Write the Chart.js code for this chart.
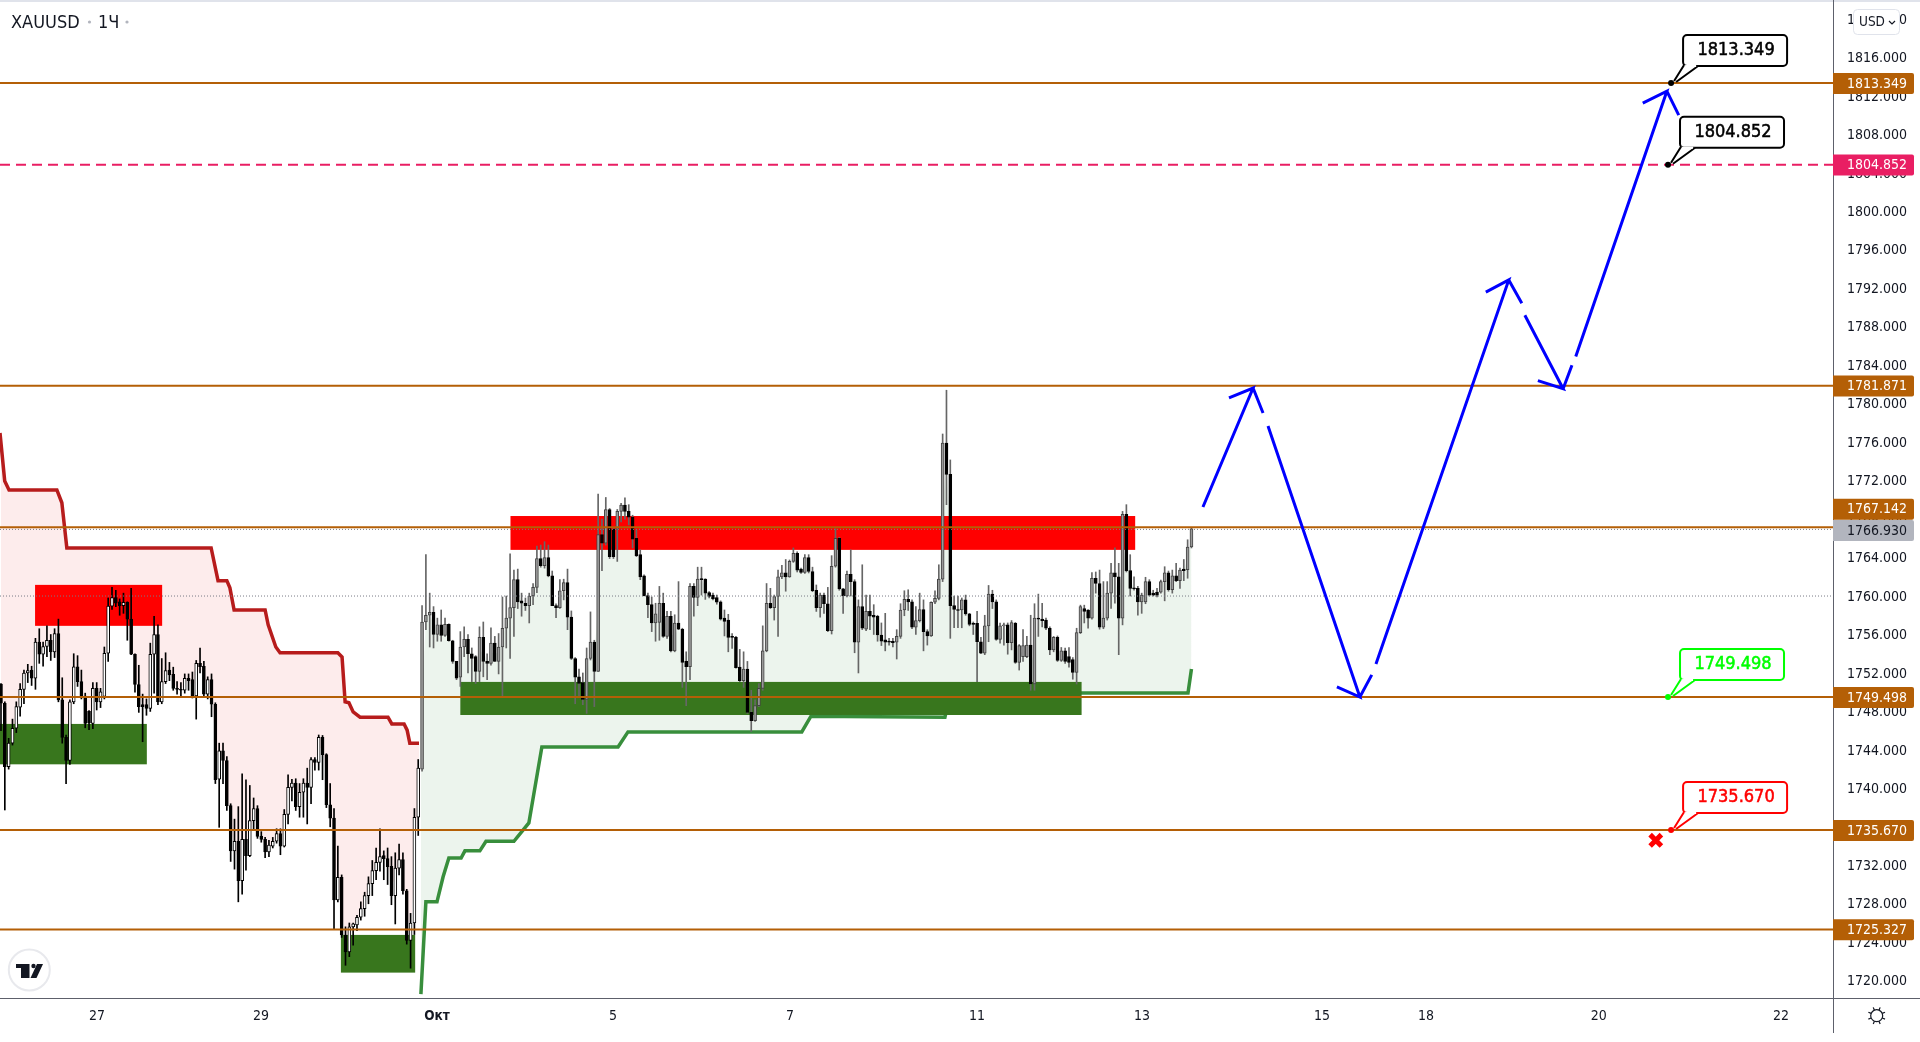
<!DOCTYPE html>
<html>
<head>
<meta charset="utf-8">
<title>XAUUSD</title>
<script src="https://cdn.jsdelivr.net/npm/chart.js@4/dist/chart.umd.min.js"></script>
<style>html,body{margin:0;padding:0;background:#fff;overflow:hidden}canvas{display:block}</style>
</head>
<body>
<canvas id="chart" width="1920" height="1042"></canvas>
<script>
const opens=[1750.85,1748.85,1742.25,1744.7,1746.25,1748.45,1750.3,1752,1752.3,1751.45,
1755.2,1753.95,1754.75,1755.4,1754.2,1756.1,1749.2,1745.3,1742.9,1749,
1752.65,1751.1,1749.6,1748,1746.75,1750.4,1749,1749.55,1754.05,1758.95,
1759.85,1759.4,1759,1759.35,1757.6,1753.95,1750.8,1748.7,1748.7,1748.3,
1753.95,1756,1749,1751.1,1752.3,1751.85,1750.4,1750.3,1750.2,1751.45,
1751.3,1749.6,1753,1752.7,1749.8,1751.3,1748.75,1740.95,1743.9,1742.9,
1738.2,1733.5,1734.5,1730.4,1734.7,1733,1736.65,1737.9,1735.05,1734.7,
1733.4,1734,1734.5,1735.3,1734,1737.3,1740.1,1740.55,1738.1,1739.6,
1740.55,1740.1,1743,1742.7,1745.3,1743.5,1738.3,1736.9,1728.4,1730.75,
1724.75,1723,1725.6,1725.8,1726.6,1727.5,1728.85,1730.1,1731.45,1732.3,
1733,1732.7,1731.9,1728.85,1731.7,1732.6,1729.35,1724.2,1726,1737,
1742,1757.3,1758,1758.3,1756,1757,1755.9,1757.05,1755.35,1753.2,
1751.55,1754.7,1755.5,1754,1753.7,1752.15,1755.7,1753.2,1753,1755.1,
1753.2,1754.7,1756.65,1757.7,1758.8,1761.7,1759.5,1759.25,1759,1760,
1760.9,1763.9,1763.15,1764,1762.1,1759,1758.8,1760.55,1761.4,1757.8,
1753.5,1751.6,1751,1749.25,1753.5,1755.2,1752.15,1766.4,1765.5,1769,
1766.95,1766.95,1768.8,1769.45,1768.8,1768.2,1766,1764.3,1762.1,1760.05,
1759.1,1757.2,1757.25,1759.25,1755.8,1757.9,1754.3,1757.2,1756.55,1753.2,
1752.65,1761,1759.85,1761.75,1761.75,1760.35,1760.1,1759.85,1759.4,1757.7,
1757.5,1755.8,1755.7,1752.6,1751.2,1752.4,1747.9,1747.05,1748.6,1750.4,
1754.3,1759.25,1758.8,1759.95,1762,1762.4,1762,1763.6,1764.45,1762.8,
1762.45,1764,1762.55,1760.6,1758.8,1760.1,1759.2,1756.4,1763.1,1766,
1760.75,1760,1762.25,1761.5,1755.2,1758.9,1756.55,1758.4,1758,1757.9,
1755.95,1755.45,1755.3,1755.3,1755.2,1755.8,1758.55,1759.65,1759.4,1756.75,
1757.45,1758.6,1756.3,1755.85,1759.35,1759.75,1761.75,1775.9,1772.65,1759,
1758.6,1758.55,1759.6,1758.15,1757.15,1757.15,1755.25,1754.05,1756.9,1760.2,
1759.4,1755.5,1756.9,1757,1755.15,1757.15,1753.1,1753.7,1753.7,1754.9,
1750.85,1757.7,1757.6,1757.5,1756.65,1754.4,1755.7,1753.3,1754.3,1753.7,
1753.4,1752.05,1756.2,1758.7,1758.55,1757.7,1761.85,1761.3,1756.75,1757.7,
1760.3,1762.4,1762,1757.7,1768.5,1762.65,1760.8,1760.8,1759.4,1759.4,
1761.5,1760.3,1760.4,1760.4,1761.5,1762.4,1760.65,1762.1,1761.6,1762.8,
1762.75,1765.1];
const highs=[1750.9,1749,1745.2,1747.2,1749,1750.9,1752.3,1752.9,1752.7,1755.6,
1756.6,1755.2,1756.9,1756,1756.6,1757.6,1751.5,1745.55,1749.2,1754,
1753.8,1752.3,1749.9,1748.1,1751,1751,1750.4,1754.7,1759.8,1760.9,
1760.6,1759.7,1760.3,1759.4,1760.8,1754,1752.8,1749.8,1749.3,1755.1,
1757.9,1757,1753.5,1754.1,1753.1,1752.6,1751.1,1751,1751.9,1751.9,
1752.1,1753.3,1754.6,1753.2,1751.6,1751.9,1748.9,1744.7,1744.7,1743.3,
1738.4,1736.8,1738.1,1741.5,1740.9,1740.3,1739,1738.2,1735.5,1734.9,
1734.6,1734.9,1735.8,1735.8,1737.8,1741.4,1740.95,1741,1740.5,1741,
1742.1,1743.2,1743.2,1745.55,1745.5,1743.6,1740.5,1737.9,1734,1731,
1725.6,1726,1726,1726.8,1728.2,1729.2,1730.8,1732.5,1733.8,1735.8,
1733.5,1733.8,1732.9,1733.3,1734.2,1733.3,1729.5,1727,1737.9,1743,
1759,1764.3,1760.3,1758.9,1757.7,1758.55,1757.7,1757.1,1755.4,1753.2,
1756.3,1756.8,1756,1754.6,1753.8,1756.8,1757.3,1754,1756.7,1755.8,
1756.1,1759.9,1760,1764.4,1762.7,1762.8,1760.3,1759.8,1760.3,1761.3,
1765.2,1765.3,1765.65,1765.3,1762.6,1759.2,1761.7,1761.75,1762.8,1758.45,
1753.6,1752.4,1752,1754.6,1758.35,1755.4,1770.6,1768,1770.25,1769.1,
1767,1769,1769.65,1770.2,1769.5,1768.4,1766.9,1764.8,1762.2,1760.3,
1759.9,1759.25,1761,1760.3,1758.4,1758.4,1758.05,1761.5,1756.65,1754.2,
1761.3,1761.3,1763,1763,1761.8,1760.45,1760.3,1760.1,1759.5,1758.55,
1758.1,1756.1,1755.8,1754.45,1754.2,1753.2,1750.2,1749.2,1750.9,1756.9,
1761.3,1760.8,1760.1,1762.7,1763.2,1763.8,1763.75,1765,1764.6,1762.9,
1764.3,1764.3,1763,1761.15,1760.3,1760.3,1760.9,1764.2,1767,1766.1,
1760.8,1762.6,1764.8,1761.7,1759.6,1763.25,1760.1,1760.1,1759.1,1758,
1757.2,1758.2,1755.6,1755.6,1756.5,1759.2,1760.55,1760.65,1759.6,1758.9,
1760.3,1759.6,1756.5,1759.4,1760.55,1763.25,1776.85,1781.4,1774.15,1760,
1760,1759.8,1760.1,1758.2,1757.3,1758.4,1755.7,1758,1761.1,1760.6,
1759.6,1757.2,1757.2,1757.2,1757.45,1757.25,1754.95,1756.5,1755.8,1758,
1759.2,1760.2,1759.25,1757.7,1756.8,1755.8,1755.85,1754.65,1754.6,1754.65,
1753.6,1756.65,1759.05,1759.05,1758.6,1762.45,1762.5,1762.7,1761.5,1761.5,
1763.4,1765,1763.4,1768.8,1769.5,1764.3,1762,1761,1760.3,1761.95,
1761.7,1760.6,1760.8,1761.65,1763.05,1762.6,1762.7,1763.4,1762.9,1763.8,
1765.85,1767.05];
const lows=[1746,1737.75,1742,1744.5,1745.8,1747.5,1748.8,1751,1750.7,1750.3,
1753,1752.7,1753.7,1753.3,1753.6,1749,1744.7,1740.5,1742.5,1748.8,
1750.6,1749.3,1746.3,1746.1,1746.2,1748.15,1748.4,1749.3,1753.2,1758.6,
1758.9,1758,1758.2,1755.4,1753.9,1750,1747.9,1744.85,1747.6,1748,
1749.9,1748.7,1748.8,1750.9,1751.2,1750.2,1749.8,1749.5,1749.9,1750.2,
1749.4,1747.2,1752,1749.6,1749.3,1747.45,1740.5,1735.95,1740.5,1737.7,
1732.4,1731.6,1728.2,1729,1731.5,1732.9,1735.7,1734.8,1734.4,1732.8,
1732.9,1733.8,1734.3,1733.1,1733.9,1736.3,1738.7,1737.7,1737,1737,
1736.3,1738.4,1741.9,1741.9,1740.9,1738,1736,1725.4,1728.2,1724.5,
1721.6,1722.5,1723.7,1725.2,1726.3,1726.7,1728,1728.85,1730.5,1731.4,
1730.5,1730,1727.9,1725.9,1731,1729,1723.8,1721.3,1724.8,1735.1,
1741.8,1756.5,1754.7,1754.6,1755.3,1755.3,1755.8,1755.3,1753,1751.3,
1750.6,1753.7,1752,1751.1,1750.9,1751.1,1751.6,1751.3,1752.8,1753.2,
1751.9,1749.6,1754.6,1753.5,1755.8,1758.7,1757.9,1758.5,1757.2,1759.1,
1760.35,1763,1762.9,1762,1759,1757.75,1758.7,1759.6,1756.5,1753.4,
1748.8,1749.5,1748.7,1747.8,1753.35,1748.5,1752.15,1762.65,1765.3,1763.9,
1763.9,1763.6,1767.7,1768,1767.4,1765,1764.1,1761.7,1760,1757.75,
1756.3,1755.3,1755.4,1755.7,1755.6,1754.2,1754.2,1756.5,1750.5,1748.6,
1751.3,1757.9,1759,1760.1,1759.65,1759.8,1759.6,1759.15,1757.5,1755.85,
1754.2,1754.55,1752.5,1751.1,1750.5,1747.8,1745.9,1746.95,1748.5,1750.2,
1754.2,1758.7,1757.5,1755.8,1761.8,1760.5,1761.95,1763.5,1762.5,1762.35,
1762.35,1762.4,1760.45,1758.4,1757.8,1758.2,1756.3,1756.05,1763,1760.6,
1758.2,1759.9,1760,1754.1,1752,1756.5,1756.4,1756.5,1756,1755.3,
1754.85,1754.3,1754.9,1754.7,1753.45,1755.6,1757.95,1758.5,1756.6,1756,
1757.3,1754.3,1754.9,1755.8,1759.2,1759.6,1761.5,1769.5,1755.6,1756.7,
1756.7,1756.7,1758,1756.9,1756,1751.1,1754,1753.9,1755.25,1758.7,
1755.4,1755.1,1754.9,1753.95,1754.4,1753,1752.3,1753.2,1753.6,1750.2,
1750.2,1755.8,1756.8,1756.5,1753.9,1754.2,1753.2,1753.2,1753,1752.6,
1751.35,1750.85,1756.1,1757.2,1756.65,1757.6,1760.3,1756.55,1756.6,1757.5,
1758.7,1759.25,1753.9,1757,1762.5,1760,1760.6,1758,1758.2,1759.2,
1760,1760,1759.9,1760.3,1759.5,1760.5,1760.3,1761.5,1760.8,1761.6,
1761.85,1765];
const closes=[1748.85,1742.25,1744.7,1746.25,1748.5,1750.3,1752,1752.25,1751.45,1755.2,
1753.95,1754.75,1755.4,1754.2,1756.1,1749.2,1745.3,1742.9,1749,1752.65,
1751.1,1749.6,1746.75,1746.8,1750.4,1749,1750.05,1754.05,1758.95,1759.85,
1759.25,1759,1759.35,1757.6,1753.95,1750.8,1748.5,1748.5,1748.3,1753.95,
1756,1749,1751.1,1752.25,1751.8,1750.4,1750.3,1750.2,1751.45,1751.2,
1749.6,1753,1752.65,1749.8,1751.3,1748.75,1740.9,1743.9,1742.9,1738.2,
1733.5,1734.5,1730.4,1734.7,1733,1736.65,1737.9,1735,1734.7,1733.4,
1734.1,1734.5,1735.3,1734,1737.3,1740.1,1740.55,1738.1,1739.6,1740.55,
1740.1,1743,1742.7,1745.3,1743.5,1738.3,1736.9,1728.4,1730.75,1724.75,
1723,1725.6,1725.9,1726.6,1727.5,1728.85,1730.1,1731.45,1732.3,1732.9,
1732.7,1731.85,1728.85,1731.7,1732.6,1729.35,1724.2,1726,1737,1742.1,
1757.3,1758,1758.3,1756,1757,1755.9,1757.05,1755.35,1753.2,1751.45,
1754.7,1755.5,1754,1753.5,1752.15,1755.7,1753.2,1753,1755.1,1753.2,
1754.7,1756.65,1757.7,1758.8,1761.7,1759.4,1759.25,1759,1760,1760.9,
1763.9,1763.15,1764,1762.1,1759,1758.8,1760.55,1761.4,1757.8,1753.5,
1751.55,1750.9,1749.25,1753.5,1755.2,1752.15,1766.4,1765.5,1769,1764.1,
1764.1,1768.8,1769.45,1768.8,1768.2,1765.9,1764.2,1762,1760.05,1759.1,
1757.2,1758.15,1759.25,1755.8,1757.9,1754.3,1757.2,1756.55,1753.1,1752.65,
1761,1759.85,1761.75,1761.7,1760.3,1759.95,1759.7,1759.35,1757.6,1757.35,
1755.7,1755.7,1752.55,1751.2,1752.4,1747.9,1747.05,1748.6,1750.4,1754.3,
1759.25,1758.8,1759.95,1762,1762.4,1762,1763.6,1764.45,1762.7,1762.45,
1764,1762.55,1760.55,1758.8,1760.1,1759.2,1756.4,1763.1,1766,1760.75,
1760,1762.25,1761.5,1755.2,1758.9,1756.65,1758.4,1757.9,1757.8,1755.95,
1755.3,1755.2,1755.2,1755.15,1755.8,1758.55,1759.65,1759.4,1756.75,1757.45,
1758.6,1756.3,1755.85,1759.35,1759.75,1761.75,1775.9,1772.65,1759,1758.6,
1758.5,1759.6,1758.15,1757.05,1757.05,1755.25,1754.05,1756.9,1760.2,1759.4,
1755.5,1756.9,1756.9,1755.15,1757.25,1753.1,1754.85,1754.85,1754.9,1750.85,
1757.7,1757.6,1757.45,1756.65,1754.4,1755.7,1753.3,1754.3,1753.2,1753.1,
1752.05,1756.2,1758.9,1758.4,1757.7,1761.85,1761.3,1756.75,1757.7,1760.3,
1762.4,1762,1757.7,1768.5,1762.65,1760.8,1760.75,1759.4,1760.1,1761.5,
1760.1,1760.1,1760.1,1761.5,1762.4,1760.65,1762.1,1761.6,1762.7,1762.65,
1765.1,1767];
const redBars=[-0.26,0.97,2.1,14.6,15.9,17.2,54.9,56.7,59,59.8,60.9,69,69.8,71.8,72.9,88,89.1,89.9,90.9,92,93.8,101.1,102.1,105.3,106.1,106.8,109.2];
const redValues=[1776.95,1771.96,1771.03,1771.03,1769.7,1765,1765,1761.6,1761.6,1760.85,1758.55,1758.55,1757,1754.7,1754.1,1754.1,1753.65,1749,1748.9,1747.95,1747.4,1747.4,1746.7,1746.7,1746.05,1744.7,1744.7];
const greenBars=[109.7,111,113.9,115.5,117,120.2,121.2,125.1,126.7,134,137.9,141.3,161.2,163.8,209.2,211.6,246.6,248,310.1,311];
const greenValues=[1718.6,1728.2,1728.2,1730.8,1732.75,1732.75,1733.5,1733.5,1734.5,1734.5,1736.4,1744.3,1744.3,1745.87,1745.87,1747.5,1747.4,1749.92,1749.92,1752.4];
const zoneFrom=[8.9,-0.26,88.8,133.1,120];
const zoneTo=[42.1,38.1,108.2,296.3,282.3];
const zoneTop=[1761.16,1746.7,1724.76,1768.32,1751.07];
const zoneBottom=[1756.9,1742.5,1720.84,1764.8,1747.63];
const zoneColors=["#FF0000","#38761D","#38761D","#FF0000","#38761D"];
const levels=[1813.349,1781.871,1767.142,1749.498,1735.67,1725.327];
const targetLevel=1804.852;
const dottedLevels=[1766.93,1760];
const blueBars=[314,327.1,320.8,null,327.1,329.7,null,331,355,349,null,355,358.1,null,359.2,393.9,387.9,null,393.9,397.3,null,398.1,408.1,401.5,null,408.1,410.4,null,411.4,435.2,428.9,null,435.2,438.3];
const blueValues=[1769.26,1781.63,1780.6,null,1781.63,1779.03,null,1777.68,1749.5,1750.55,null,1749.5,1751.8,null,1752.94,1792.87,1791.6,null,1792.87,1790.44,null,1789.2,1781.55,1782.4,null,1781.55,1784,null,1784.9,1812.5,1811.25,null,1812.5,1810];
const calloutBars=[436.3,435.5,435.5,436.3];
const calloutValues=[1813.349,1804.852,1749.498,1735.67];
const calloutColors=["#000000","#000000","#00FF00","#FF0000"];
const stopBar=432.3,stopValue=1734.6;
const tagValues=[1813.349,1804.852,1781.871,1767.142,1766.93,1749.498,1735.67,1725.327];
const tagColors=["#B45F06","#E91E63","#B45F06","#B45F06","#B2B5BE","#B45F06","#B45F06","#B45F06"];
const tagText=["#fff","#fff","#fff","#fff","#131722","#fff","#fff","#fff"];
const tagShift=[0,0,0,-18.5,0.6,0,0,0];
const yTicks=[1720,1724,1728,1732,1736,1740,1744,1748,1752,1756,1760,1764,1768,1772,1776,1780,1784,1788,1792,1796,1800,1804,1808,1812,1816,1820];
const xTickBars=[25.1,67.9,113.9,159.9,206.1,255,298.1,345.1,372.3,417.4,465];
const xTickLabels=["27","29","Окт","5","7","11","13","15","18","20","22"];

const xMin=-0.26,xMax=478.6;
const font='"DejaVu Sans Condensed","DejaVu Sans"',ink="#131722",lineGrey="#5D606B";
const grayFrom=110;
const isUp=i=>closes[i]>=opens[i];
const pts=(xs,ys)=>xs.map((x,i)=>({x,y:ys[i]}));
const flat=(y,o)=>({type:"line",data:[{x:xMin,y},{x:xMax,y}],pointRadius:0,borderCapStyle:"butt",...o});

const overlay={
  id:"overlay",
  beforeDatasetDraw(chart,args){
    if(args.index!==3)return;
    const {x,y}=chart.scales,c=chart.ctx;
    c.save();
    zoneFrom.forEach((b,i)=>{
      c.fillStyle=zoneColors[i];
      c.fillRect(x.getPixelForValue(b),y.getPixelForValue(zoneTop[i]),x.getPixelForValue(zoneTo[i])-x.getPixelForValue(b),y.getPixelForValue(zoneBottom[i])-y.getPixelForValue(zoneTop[i]));
    });
    c.restore();
  },
  afterDraw(chart){
    const {x,y}=chart.scales,c=chart.ctx;
    c.save();
    c.fillStyle="#E0E3EB";c.fillRect(0,0,1920,2);
    c.fillStyle=lineGrey;
    c.fillRect(0,998,1920,1);c.fillRect(1833,0,1,1033);
    // callouts
    calloutValues.forEach((v,i)=>{
      const ax=x.getPixelForValue(calloutBars[i]),ay=y.getPixelForValue(v),col=calloutColors[i];
      const bl=ax+12,bt=ay-48,bw=104,bh=31;
      c.lineWidth=2;c.strokeStyle=col;c.fillStyle="#fff";
      c.beginPath();c.roundRect(bl,bt,bw,bh,4);c.fill();c.stroke();
      c.beginPath();c.moveTo(bl+1,bt+bh-1);c.lineTo(ax+3,ay-2);c.lineTo(ax+5,ay-1);c.lineTo(bl+15,bt+bh);c.closePath();c.fill();
      c.beginPath();c.moveTo(bl+1,bt+bh-1);c.lineTo(ax+3,ay-2);c.moveTo(bl+15,bt+bh);c.lineTo(ax+5,ay-1);c.stroke();
      c.strokeStyle="#fff";c.beginPath();c.moveTo(bl+3,bt+bh);c.lineTo(bl+13,bt+bh);c.stroke();
      c.fillStyle=col;c.beginPath();c.arc(ax,ay,3,0,Math.PI*2);c.fill();
      c.font=`18px ${font}`;c.textAlign="center";c.textBaseline="middle";
      c.fillText(v.toFixed(3),bl+bw/2+1,bt+bh/2);
      c.strokeStyle=col;c.lineWidth=0.5;c.strokeText(v.toFixed(3),bl+bw/2+1,bt+bh/2);
    });
    // price tags on the axis
    c.font=`14px ${font}`;c.textAlign="left";c.textBaseline="middle";
    tagValues.forEach((v,i)=>{
      const cy=y.getPixelForValue(v)+tagShift[i]+0.4;
      c.fillStyle=tagColors[i];
      c.beginPath();c.roundRect(1833,cy-10.5,81,21,[0,2,2,0]);c.fill();
      c.fillStyle=tagText[i];c.fillText(v.toFixed(3),1847,cy+0.6);
    });
    // USD button
    c.fillStyle="#fff";c.strokeStyle="#E0E3EB";c.lineWidth=1;
    c.beginPath();c.roundRect(1853.5,9.5,46,25,4);c.fill();c.stroke();
    c.fillStyle=ink;c.font=`13.5px ${font}`;c.fillText("USD",1859,22.5);
    c.strokeStyle=ink;c.lineWidth=1.2;c.beginPath();c.moveTo(1889,21);c.lineTo(1892,24);c.lineTo(1895,21);c.stroke();
    // title
    c.font=`18px ${font}`;c.fillStyle=ink;c.textBaseline="alphabetic";
    c.fillText("XAUUSD",11,28);c.fillText("1Ч",98,28);
    c.fillStyle="#B2B5BE";
    [[89.5,22],[127,22]].forEach(p=>{c.beginPath();c.arc(p[0],p[1],1.6,0,Math.PI*2);c.fill()});
    // logo
    c.strokeStyle="#E8E9ED";c.lineWidth=2;c.fillStyle="#fff";
    c.beginPath();c.arc(29.3,970,20.5,0,Math.PI*2);c.fill();c.stroke();
    c.fillStyle=ink;
    c.beginPath();c.moveTo(16,964);c.lineTo(29.5,964);c.lineTo(29.5,978);c.lineTo(21,978);c.lineTo(21,968);c.lineTo(16,968);c.closePath();c.fill();
    c.beginPath();c.arc(33.5,966,2.2,0,Math.PI*2);c.fill();
    c.beginPath();c.moveTo(37,964);c.lineTo(43,964);c.lineTo(36.5,978);c.lineTo(30.5,978);c.closePath();c.fill();
    // settings gear
    c.strokeStyle=ink;c.lineWidth=1.2;
    c.beginPath();c.arc(1876.7,1015.7,6,0,Math.PI*2);c.stroke();
    for(let k=0;k<8;k++){
      const a=k*Math.PI/4+Math.PI/8;
      c.beginPath();c.moveTo(1876.7+6*Math.cos(a),1015.7+6*Math.sin(a));c.lineTo(1876.7+9*Math.cos(a),1015.7+9*Math.sin(a));c.stroke();
    }
    c.restore();
  }
};

new Chart("chart",{
  data:{datasets:[
    {type:"line",label:"down",data:pts(redBars,redValues),borderColor:"#B71C1C",borderWidth:3.5,pointRadius:0,fill:{target:2},backgroundColor:"rgba(233,30,40,0.085)",order:8},
    {type:"line",label:"up",data:pts(greenBars,greenValues),borderColor:"#388E3C",borderWidth:3.5,pointRadius:0,fill:{target:2},backgroundColor:"rgba(56,142,60,0.095)",order:8},
    {type:"line",label:"mid",data:closes.map((v,i)=>({x:i,y:(v+opens[i])/2})),borderColor:"transparent",pointRadius:0,order:9},
    {type:"bar",label:"wicks",data:highs.map((h,i)=>({x:i,y:[lows[i],h]})),grouped:false,barThickness:1,minBarLength:1,
      backgroundColor:highs.map((h,i)=>i<grayFrom?"#000":"#666"),order:6},
    {type:"bar",label:"bodies",data:closes.map((v,i)=>({x:i,y:[Math.min(v,opens[i]),Math.max(v,opens[i])]})),grouped:false,barThickness:3,minBarLength:1,
      borderSkipped:false,borderWidth:1,
      borderColor:closes.map((v,i)=>isUp(i)&&i>=grayFrom?"#444":"#000"),
      backgroundColor:closes.map((v,i)=>isUp(i)?(i<grayFrom?"#fff":"#999"):"#000"),order:5},
    ...levels.map(v=>flat(v,{label:"level",borderColor:"#B45F06",borderWidth:2,order:3})),
    flat(targetLevel,{label:"target",borderColor:"#E91E63",borderWidth:2,borderDash:[10,6],order:3}),
    ...dottedLevels.map(v=>flat(v,{label:"dotted",borderColor:"#787B86",borderWidth:1,borderDash:[1,2],order:4})),
    {type:"line",label:"path",data:pts(blueBars,blueValues),borderColor:"#0000FF",borderWidth:3,pointRadius:0,spanGaps:false,borderJoinStyle:"miter",order:1},
    {type:"line",label:"stop",data:[{x:stopBar,y:stopValue}],showLine:false,pointStyle:"crossRot",pointRadius:8,pointBorderWidth:5,pointBorderColor:"#FF0000",order:1}
  ]},
  options:{
    responsive:false,animation:false,
    layout:{padding:0,autoPadding:false},
    events:[],
    plugins:{legend:{display:false},tooltip:{enabled:false},filler:{drawTime:"beforeDraw"}},
    scales:{
      x:{type:"linear",position:"bottom",min:xMin,max:xMax,offset:false,
        grid:{display:false,drawTicks:false},border:{display:false},
        afterBuildTicks:a=>{a.ticks=xTickBars.map(value=>({value}))},
        afterFit:a=>{a.height=44;a.paddingLeft=0;a.paddingRight=0},
        ticks:{autoSkip:false,maxRotation:0,padding:10,color:ink,
          font:ctx=>xTickLabels[ctx.index]==="Окт"?{family:font,size:13.5,weight:"bold"}:{family:font,size:14},
          callback:v=>xTickLabels[xTickBars.indexOf(v)]}},
      y:{type:"linear",position:"right",min:1718.2,max:1821.98,
        grid:{display:false,drawTicks:false},border:{display:false},
        afterBuildTicks:a=>{a.ticks=yTicks.map(value=>({value}))},
        afterFit:a=>{a.width=87;a.paddingTop=0;a.paddingBottom=0},
        ticks:{autoSkip:false,padding:14,labelOffset:1,color:ink,font:{family:font,size:14},callback:v=>v.toFixed(3)}}
    }
  },
  plugins:[overlay]
});
</script>
</body>
</html>
